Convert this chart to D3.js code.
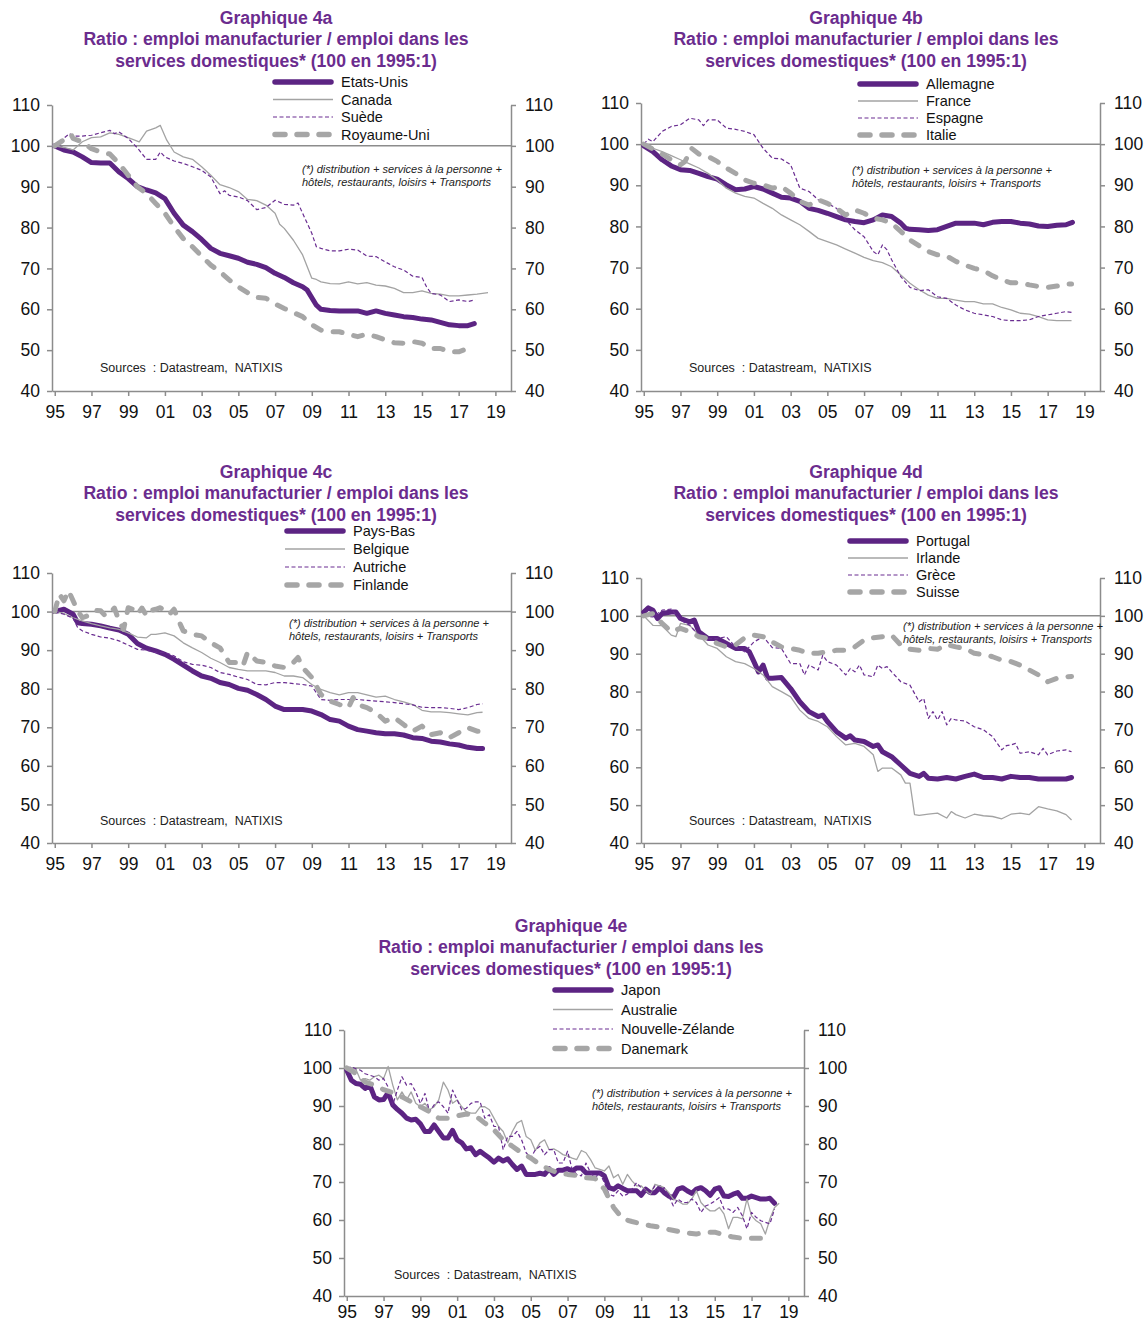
<!DOCTYPE html>
<html>
<head>
<meta charset="utf-8">
<script src="https://cdn.jsdelivr.net/npm/d3@7"></script>
<style>
  body { margin: 0; background: #ffffff; }
  text { font-family: "Liberation Sans", Arial, sans-serif; }
</style>
</head>
<body>
<div id="chart-container"></div>
<script>
const W = 1146, H = 1326;

// Axis ticks
const yTicks = [40, 50, 60, 70, 80, 90, 100, 110];
const xTicks = [1995, 1997, 1999, 2001, 2003, 2005, 2007, 2009, 2011, 2013, 2015, 2017, 2019];

const titleLine2 = "Ratio : emploi manufacturier / emploi dans les";
const titleLine3 = "services domestiques* (100 en 1995:1)";
const noteLines = ["(*) distribution + services à la personne +", "hôtels, restaurants, loisirs + Transports"];
const sourceText = "Sources  : Datastream,  NATIXIS";

// ---- Graphique 4a ----
const etatsUnis = [[1995,100],[1995.5,99],[1996,98.5],[1996.5,97.3],[1997,95.9],[1997.5,95.8],[1998,95.8],[1998.5,93.6],[1999,92],[1999.5,90],[2000,89.2],[2000.5,88.5],[2001,87.1],[2001.5,83.5],[2002,80.6],[2002.5,79],[2003,77.1],[2003.5,74.9],[2004,73.7],[2004.5,73.1],[2005,72.5],[2005.5,71.5],[2006,71],[2006.5,70.2],[2007,68.8],[2007.5,67.8],[2008,66.5],[2008.5,65.5],[2008.75,64.7],[2009.25,61],[2009.5,60],[2010,59.7],[2010.5,59.6],[2011,59.6],[2011.5,59.6],[2012,59],[2012.5,59.6],[2013,59],[2013.5,58.6],[2014,58.2],[2014.5,58],[2015,57.6],[2015.5,57.4],[2016,56.8],[2016.5,56.2],[2017,56],[2017.5,56],[2017.85,56.5]];
const canada = [[1995,100],[1995.5,99.6],[1996,99],[1996.5,101],[1997,102],[1997.5,102.2],[1998,103.2],[1998.5,102.8],[1999,102],[1999.6,101],[2000,103.6],[2000.5,104.4],[2000.75,105],[2001.1,101.4],[2001.5,98.5],[2002,97.3],[2002.5,96.7],[2003,94.9],[2003.5,92.8],[2004,90.5],[2004.5,89.8],[2005,88.8],[2005.5,86.9],[2006,86.6],[2006.5,85.5],[2007,83.5],[2007.25,80.8],[2007.5,79.8],[2008,76.9],[2008.5,73.3],[2009,67.6],[2009.25,67.3],[2009.5,66.7],[2010,66.3],[2010.5,66.2],[2011,66.7],[2011.5,66.2],[2012,66.5],[2012.5,65.9],[2013,65.7],[2013.5,65.1],[2014,64.1],[2014.5,64.1],[2015,64.5],[2015.5,63.9],[2016,63.7],[2016.5,63.3],[2017,63.3],[2017.5,63.5],[2018,63.7],[2018.6,64.1]];
const suede = [[1995,100],[1995.8,103],[1996,102.4],[1996.5,102.4],[1997,102.6],[1997.5,103.2],[1998,103.8],[1998.25,103],[1998.5,103.4],[1999,101.8],[1999.5,99.5],[2000,96.7],[2000.5,96.7],[2000.75,98.5],[2001,97.3],[2001.5,96.3],[2002,95.7],[2002.5,94.9],[2003,94],[2003.5,92.4],[2004,88.3],[2004.25,89],[2004.5,87.9],[2005,87.5],[2005.5,86.6],[2006,84.4],[2006.5,84.9],[2007,86.7],[2007.5,85.7],[2008,85.5],[2008.25,86],[2008.5,83.5],[2009,78.6],[2009.25,75.3],[2009.5,74.9],[2010,74.3],[2010.5,74.3],[2011,74.7],[2011.5,74.5],[2012,73],[2012.5,72.9],[2013,71.6],[2013.5,70.4],[2014,69.6],[2014.5,68.1],[2015,67.8],[2015.25,65.5],[2015.5,63.9],[2016,63.5],[2016.5,61.9],[2017,62.3],[2017.5,61.9],[2017.9,62.3]];
const royaumeUni = [[1995,100],[1995.9,102.7],[1996,101.8],[1996.5,101],[1997,99.3],[1997.5,98.5],[1998,98],[1998.5,95.7],[1999,92.8],[1999.5,90],[2000,88.3],[2000.5,85.9],[2001,83.5],[2001.5,80.2],[2002,77.3],[2002.5,75.3],[2003,73],[2003.5,70.8],[2004,69.2],[2004.5,67.2],[2005,65.5],[2005.5,64.1],[2006,62.9],[2006.5,62.7],[2007,61.3],[2007.5,60.2],[2008,59.2],[2008.5,58.2],[2009,56.2],[2009.5,54.9],[2010,54.5],[2010.5,54.5],[2011,53.9],[2011.5,53.3],[2012,53.9],[2012.5,53.3],[2013,52.5],[2013.5,51.8],[2014,51.7],[2014.5,52.1],[2015,51.7],[2015.5,50.4],[2016,50.4],[2016.5,49.6],[2017,49.6],[2017.5,50.4],[2017.8,49.6]];

// ---- Graphique 4b ----
const allemagne = [[1995,99.6],[1995.5,98.2],[1996,96.2],[1996.5,94.7],[1997,93.8],[1997.5,93.6],[1998,92.9],[1998.5,92.1],[1999,91.5],[1999.5,90.1],[2000,88.9],[2000.5,89.1],[2001,89.7],[2001.5,89.1],[2002,88.1],[2002.5,87.1],[2003,86.9],[2003.5,86.1],[2004,84.4],[2004.5,83.9],[2005,83.2],[2005.5,82.4],[2006,81.6],[2006.5,81.2],[2007,80.9],[2007.5,81.6],[2008,82.8],[2008.5,82.4],[2009,80.8],[2009.25,79.6],[2009.5,79.3],[2010,79.2],[2010.5,79],[2011,79.2],[2011.5,80],[2012,80.8],[2012.5,80.8],[2013,80.8],[2013.5,80.4],[2014,81],[2014.5,81.2],[2015,81.2],[2015.5,80.8],[2016,80.6],[2016.5,80.1],[2017,80],[2017.5,80.3],[2018,80.4],[2018.35,81]];
const france = [[1995,100],[1995.5,99],[1996,98.2],[1996.5,97.2],[1997,96.2],[1997.5,95.2],[1998,94.2],[1998.5,92.9],[1999,91.3],[1999.5,89.3],[2000,88.1],[2000.5,87.3],[2001,86.9],[2001.5,85.6],[2002,84.4],[2002.5,82.8],[2003,81.6],[2003.5,80.4],[2004,78.8],[2004.5,77.1],[2005,76.3],[2005.5,75.5],[2006,74.5],[2006.5,73.5],[2007,72.5],[2007.5,71.7],[2008,71.2],[2008.5,70.2],[2009,68.2],[2009.5,66.2],[2010,64.6],[2010.5,63.3],[2011,62.5],[2011.5,62.5],[2012,62.1],[2012.5,61.7],[2013,61.7],[2013.5,61.2],[2014,61.2],[2014.5,60.3],[2015,59.7],[2015.5,58.9],[2016,58.7],[2016.5,58.1],[2017,57.3],[2017.5,57.1],[2018,57.1],[2018.3,57.1]];
const espagne = [[1995,100],[1995.25,101.2],[1995.5,100.6],[1996,103.1],[1996.5,104.3],[1997,104.7],[1997.5,106.3],[1998,105.9],[1998.25,104.5],[1998.5,105.9],[1999,105.9],[1999.5,103.9],[2000,103.6],[2000.5,103.1],[2001,102.3],[2001.5,99],[2002,96.6],[2002.5,96.4],[2003,95],[2003.5,89.3],[2004,88.5],[2004.5,86.5],[2005,85.6],[2005.5,84.4],[2006,81.6],[2006.5,79.2],[2007,77.5],[2007.5,73.9],[2007.75,73.1],[2008,75.5],[2008.25,74.3],[2008.5,71.9],[2009,67.8],[2009.5,65.2],[2010,64.4],[2010.5,64.6],[2011,62.9],[2011.5,62.5],[2012,60.9],[2012.5,59.7],[2013,58.9],[2013.5,58.5],[2014,58.1],[2014.5,57.3],[2015,57.1],[2015.5,57.1],[2016,57.3],[2016.5,58.1],[2017,58.5],[2017.5,58.9],[2018,59.3],[2018.3,59.1]];
const italie = [[1995,100],[1995.5,98.8],[1996,97.6],[1996.5,96.2],[1997,95],[1997.25,95.8],[1997.6,99],[1998,97.6],[1998.5,97],[1999,95.8],[1999.5,94.2],[2000,92.9],[2000.5,91.3],[2001,90.5],[2001.5,90.1],[2002,89.3],[2002.5,89.7],[2003,88.1],[2003.5,86.1],[2004,85.2],[2004.5,86.5],[2005,85.6],[2005.5,84.4],[2006,82.8],[2006.5,84],[2007,83.2],[2007.5,82],[2008,81.6],[2008.5,80.8],[2009,78.8],[2009.5,76.7],[2010,75.3],[2010.5,73.9],[2011,73.1],[2011.5,72.8],[2012,71.5],[2012.5,70.6],[2013,69.8],[2013.5,69.3],[2014,68],[2014.5,67],[2015,66.3],[2015.5,66.3],[2016,65.8],[2016.5,65.4],[2017,65.2],[2017.5,65.5],[2018,66],[2018.3,66]];

// ---- Graphique 4c ----
const paysBas = [[1995,100],[1995.5,100.6],[1996,99.3],[1996.25,97.1],[1996.5,96.9],[1997,96.7],[1997.5,96.3],[1998,95.7],[1998.5,95.2],[1999,94.1],[1999.5,91.7],[2000,90.5],[2000.5,89.8],[2001,88.9],[2001.5,87.6],[2002,86.1],[2002.5,84.6],[2003,83.3],[2003.5,82.7],[2004,81.6],[2004.5,81.1],[2005,80.1],[2005.5,79.6],[2006,78.5],[2006.5,77.2],[2007,75.5],[2007.5,74.6],[2008,74.6],[2008.5,74.6],[2009,74.2],[2009.5,73.3],[2010,72],[2010.5,71.6],[2011,70.3],[2011.5,69.4],[2012,69],[2012.5,68.6],[2013,68.3],[2013.5,68.3],[2014,68],[2014.5,67.3],[2015,67.1],[2015.5,66.4],[2016,66.2],[2016.5,65.7],[2017,65.4],[2017.5,64.8],[2018,64.5],[2018.3,64.5]];
const belgique = [[1995,100],[1995.5,99.5],[1996,98.4],[1996.5,97.6],[1997,96.9],[1997.5,96.3],[1998,95.8],[1998.5,95.4],[1999,94.5],[1999.5,93.4],[2000,93.2],[2000.25,94.1],[2000.5,94.1],[2001,94.5],[2001.5,93.7],[2002,91.9],[2002.5,90.6],[2003,89.4],[2003.5,87.9],[2004,86.8],[2004.5,85.5],[2005,85],[2005.5,84.6],[2006,84.6],[2006.5,84.6],[2007,84.2],[2007.5,83.3],[2008,83.3],[2008.5,82.9],[2009,81.1],[2009.5,79.8],[2010,79],[2010.5,78.4],[2011,79],[2011.5,79],[2012,78.4],[2012.5,77.8],[2013,78.1],[2013.5,77.2],[2014,76.6],[2014.5,75.9],[2015,74.4],[2015.5,74],[2016,74],[2016.5,73.8],[2017,73.5],[2017.5,73.2],[2018,73.8],[2018.3,73.9]];
const autriche = [[1995,100],[1995.5,99.3],[1996,98.3],[1996.25,95.8],[1996.5,95],[1997,94.1],[1997.5,93.4],[1998,93.1],[1998.5,92.4],[1999,91.3],[1999.5,90.2],[2000,90],[2000.5,89.4],[2001,89.4],[2001.5,88.5],[2002,87],[2002.5,86.3],[2003,86.1],[2003.5,85.5],[2004,84.2],[2004.5,83.7],[2005,83],[2005.5,82.4],[2006,81.1],[2006.5,81],[2007,81.6],[2007.5,81.6],[2008,81.3],[2008.5,81.1],[2009,80.7],[2009.5,77.2],[2010,77],[2010.5,77.2],[2011,77.2],[2011.5,77.2],[2012,77],[2012.5,76.8],[2013,76.6],[2013.5,76.4],[2014,76.1],[2014.5,75.8],[2015,75.2],[2015.5,75.1],[2016,75.1],[2016.5,74.9],[2017,74.6],[2017.5,75.1],[2018,75.9],[2018.3,76.1]];
const finlande = [[1995,100],[1995.25,104.5],[1995.5,102.8],[1995.75,105.4],[1996,102.8],[1996.25,100.2],[1996.5,98.4],[1997,99.3],[1997.25,100.3],[1997.5,100.2],[1997.75,98.9],[1998,99.7],[1998.25,100.9],[1998.5,97.6],[1998.75,95.4],[1999,101],[1999.25,100.6],[1999.5,99.3],[1999.75,100.9],[2000,98.9],[2000.25,100.3],[2000.5,100.6],[2000.75,101],[2001,100.2],[2001.25,99.3],[2001.5,100.6],[2001.75,97.6],[2002,95],[2002.5,94.1],[2003,93.7],[2003.25,92.8],[2003.5,91.9],[2004,90.6],[2004.5,86.8],[2005,86.8],[2005.25,85.9],[2005.5,89.4],[2006,87.2],[2006.5,86.8],[2007,85.9],[2007.5,85.5],[2008,86.8],[2008.25,88.1],[2008.5,85.5],[2009,82.9],[2009.5,78.5],[2010,76.8],[2010.5,75.9],[2011,75.1],[2011.25,77.7],[2011.5,75.9],[2012,75.1],[2012.5,73.8],[2013,71.6],[2013.5,72.5],[2014,70.7],[2014.5,69],[2015,70.3],[2015.5,68.1],[2016,68.6],[2016.5,67.3],[2017,68.6],[2017.5,69.9],[2018,69],[2018.3,69]];

// ---- Graphique 4d ----
const portugal = [[1995,101],[1995.25,102.1],[1995.5,101.5],[1995.75,99.3],[1996,100.6],[1996.5,101],[1996.75,101],[1997,99.3],[1997.5,98.4],[1997.75,98.9],[1998,95.8],[1998.5,94],[1999,94],[1999.5,92.7],[2000,91.4],[2000.5,91.4],[2000.75,90.5],[2001,87.9],[2001.25,85.2],[2001.5,87],[2001.75,83.5],[2002,83.5],[2002.5,83.7],[2003,80.8],[2003.5,77.3],[2004,74.7],[2004.5,73.4],[2004.75,73.8],[2005,72.1],[2005.5,69.4],[2006,67.7],[2006.25,68.3],[2006.5,67.2],[2007,66.8],[2007.5,65.5],[2007.75,65.9],[2008,64.1],[2008.5,62.8],[2009,60.6],[2009.5,58.4],[2010,57.6],[2010.25,58.4],[2010.5,57.1],[2011,56.9],[2011.5,57.3],[2012,56.9],[2012.5,57.6],[2013,58.2],[2013.5,57.3],[2014,57.3],[2014.5,56.9],[2015,57.6],[2015.5,57.3],[2016,57.3],[2016.5,56.9],[2017,56.9],[2017.5,56.9],[2018,56.9],[2018.3,57.3]];
const irlande = [[1995,100],[1995.5,97.5],[1996,97.4],[1996.5,94.9],[1996.75,94.5],[1997,98],[1997.5,97.5],[1998,94.9],[1998.5,92.3],[1999,91.4],[1999.5,89.2],[2000,87.9],[2000.5,87.4],[2001,86.1],[2001.5,84.4],[2002,81.3],[2002.5,80],[2003,78.6],[2003.5,75.1],[2004,72.9],[2004.5,72.1],[2005,70.7],[2005.5,68.1],[2006,65.9],[2006.5,66.3],[2007,65.5],[2007.5,63.3],[2007.75,58.9],[2008,59.8],[2008.5,59.8],[2009,58],[2009.25,55.8],[2009.5,55.8],[2009.75,47.5],[2010,47.3],[2010.5,47.6],[2011,47.9],[2011.5,46.6],[2011.75,48.3],[2012,47.5],[2012.5,46.6],[2013,47.6],[2013.5,47.2],[2014,47],[2014.5,46.4],[2015,47.6],[2015.5,47.9],[2016,47.5],[2016.5,49.6],[2017,49],[2017.5,48.5],[2018,47.5],[2018.3,46.1]];
const grece = [[1995,100],[1995.5,99.7],[1996,101.5],[1996.5,101.8],[1997,98.9],[1997.5,97.5],[1998,94.9],[1998.5,94],[1999,94],[1999.5,94.5],[2000,91.8],[2000.5,90.5],[2001,93.1],[2001.5,94.5],[2002,91.6],[2002.5,91.4],[2003,87.4],[2003.5,87.4],[2003.75,84.4],[2004,87],[2004.5,85.7],[2004.75,89.6],[2005,87.9],[2005.5,87],[2006,84.4],[2006.25,86.1],[2006.5,85.2],[2006.75,87],[2007,84.4],[2007.5,83.9],[2007.75,87],[2008,86.1],[2008.25,86.6],[2008.5,85.2],[2009,82.6],[2009.5,81.7],[2010,77.3],[2010.25,78.2],[2010.5,72.9],[2010.75,74.7],[2011,72.5],[2011.25,74.7],[2011.5,71.2],[2011.75,72.9],[2012,72.5],[2012.5,72.2],[2013,70.7],[2013.5,69.9],[2014,68.1],[2014.5,64.6],[2014.75,65.7],[2015,65.9],[2015.25,66.3],[2015.5,63.7],[2016,64.1],[2016.5,63.3],[2016.75,65],[2017,63.3],[2017.5,64.3],[2018,64.6],[2018.3,64.1]];
const suisse = [[1995,100],[1995.5,100.6],[1996,98],[1996.5,95.8],[1997,96.7],[1997.5,95.8],[1998,94.5],[1998.5,94],[1999,92.7],[1999.5,91.8],[2000,92.3],[2000.5,94.2],[2001,94.9],[2001.5,94.5],[2002,93.1],[2002.5,91.8],[2003,91.4],[2003.5,90.9],[2004,90.1],[2004.5,90.1],[2005,90.5],[2005.5,90.9],[2006,90.9],[2006.5,91.8],[2007,93.6],[2007.5,94.2],[2008,94.5],[2008.5,94.9],[2009,92.3],[2009.5,91.2],[2010,90.9],[2010.5,91.4],[2011,91.2],[2011.5,92.4],[2012,91.8],[2012.5,91.4],[2013,90.1],[2013.5,89.8],[2014,89.2],[2014.5,88.3],[2015,87.9],[2015.5,87],[2016,85.7],[2016.5,84.4],[2017,82.6],[2017.5,83.5],[2018,83.9],[2018.3,84]];

// ---- Graphique 4e ----
const japon = [[1995,99.4],[1995.25,96.8],[1995.5,95.9],[1995.75,95.7],[1996,94.6],[1996.25,95.5],[1996.5,92.4],[1996.75,91.6],[1997,91.7],[1997.25,93.5],[1997.5,90.3],[1997.75,89.1],[1998,88.1],[1998.25,86.8],[1998.5,86.3],[1998.75,86.5],[1999,85.3],[1999.25,83.3],[1999.5,83.3],[1999.75,85],[2000,83.3],[2000.25,81.6],[2000.5,81.6],[2000.75,83.6],[2001,81.1],[2001.25,80.3],[2001.5,78.7],[2001.75,79],[2002,77.2],[2002.25,78.1],[2002.5,77.2],[2002.75,76.3],[2003,75.2],[2003.25,76.3],[2003.5,75.5],[2003.75,76.1],[2004,74.6],[2004.25,73.3],[2004.5,74.2],[2004.75,72],[2005,72],[2005.25,72],[2005.5,72.3],[2005.75,72],[2006,73.5],[2006.25,72],[2006.5,73.1],[2006.75,73.1],[2007,73.5],[2007.25,72.9],[2007.5,73.7],[2007.75,73.7],[2008,72.4],[2008.25,72.4],[2008.5,72.4],[2008.75,72.4],[2009,71.6],[2009.25,68.5],[2009.5,68.1],[2009.75,69],[2010,68.3],[2010.25,67.7],[2010.5,67.7],[2010.75,67.7],[2011,66.5],[2011.25,68.1],[2011.5,67.2],[2011.75,67.2],[2012,68.5],[2012.25,67.2],[2012.5,66.3],[2012.75,65.9],[2013,68.1],[2013.25,68.5],[2013.5,67.7],[2013.75,67],[2014,68.1],[2014.25,68.5],[2014.5,67.7],[2014.75,66.5],[2015,68.1],[2015.25,68.5],[2015.5,66.3],[2015.75,66.2],[2016,66.8],[2016.25,67.2],[2016.5,65.7],[2016.75,65.7],[2017,66.3],[2017.25,65.9],[2017.5,65.5],[2017.75,65.5],[2018,65.7],[2018.25,64.4]];
const australie = [[1995,100],[1995.25,99.4],[1995.5,99.6],[1995.75,96.8],[1996,97.2],[1996.25,96.8],[1996.5,97.7],[1996.75,98.1],[1997,97.2],[1997.25,100.4],[1997.5,95.5],[1997.75,91.6],[1998,93.7],[1998.25,91.6],[1998.5,93.7],[1998.75,90.7],[1999,89.8],[1999.25,90.7],[1999.5,89],[1999.75,89.8],[2000,91.6],[2000.25,96.3],[2000.5,94.2],[2000.75,90.7],[2001,91.6],[2001.25,89.8],[2001.5,88.5],[2001.75,88.1],[2002,88.1],[2002.25,89.8],[2002.5,89.8],[2002.75,89],[2003,86.8],[2003.25,84.6],[2003.5,83.3],[2003.75,80.3],[2004,83.3],[2004.25,85.5],[2004.5,86.2],[2004.75,82],[2005,81.1],[2005.25,78.3],[2005.5,80.3],[2005.75,81.1],[2006,78.5],[2006.25,78.7],[2006.5,78.1],[2006.75,77.2],[2007,76.8],[2007.25,76.3],[2007.5,75.9],[2007.75,78.3],[2008,77.7],[2008.25,75.9],[2008.5,73.7],[2008.75,73.3],[2009,72.9],[2009.25,74.2],[2009.5,71.1],[2009.75,72],[2010,69.4],[2010.25,72],[2010.5,70.3],[2010.75,69],[2011,69],[2011.25,67.7],[2011.5,66.8],[2011.75,69.4],[2012,69],[2012.25,68.5],[2012.5,67.2],[2012.75,65.5],[2013,65],[2013.25,64.2],[2013.5,64.2],[2013.75,65.5],[2014,67.7],[2014.25,64.6],[2014.5,63.3],[2014.75,62.4],[2015,62.4],[2015.25,63.3],[2015.5,61.6],[2015.75,57.7],[2016,60.7],[2016.25,60.7],[2016.5,60.3],[2016.75,65.5],[2017,61.1],[2017.25,59.8],[2017.5,59],[2017.75,56.3],[2018,60.3],[2018.25,63.3],[2018.5,64.4]];
const nouvelleZelande = [[1995,100],[1995.25,100.3],[1995.5,99.8],[1995.75,99.4],[1996,98.5],[1996.25,98.1],[1996.5,97.7],[1996.75,96.8],[1997,97.2],[1997.25,95],[1997.5,90.3],[1997.75,94.2],[1998,97.7],[1998.25,95.5],[1998.5,95.9],[1998.75,93.7],[1999,90.7],[1999.25,93.3],[1999.5,88.5],[1999.75,90.3],[2000,91.1],[2000.25,89.8],[2000.5,88.1],[2000.75,94.2],[2001,91.6],[2001.25,89],[2001.5,89.4],[2001.75,90.7],[2002,91.1],[2002.25,91.1],[2002.5,86.8],[2002.75,87.7],[2003,84.6],[2003.25,84.6],[2003.5,78.5],[2003.75,82],[2004,82],[2004.25,83.3],[2004.5,81.1],[2004.75,77.7],[2005,76.3],[2005.25,78.5],[2005.5,79.4],[2005.75,77.2],[2006,78.5],[2006.25,78.5],[2006.5,75],[2006.75,75],[2007,78.1],[2007.25,73.3],[2007.5,72],[2007.75,71.6],[2008,75],[2008.25,72.4],[2008.5,71.1],[2008.75,72.4],[2009,69.8],[2009.25,66.8],[2009.5,66.3],[2009.75,67.7],[2010,66.3],[2010.25,66.8],[2010.5,68.1],[2010.75,69.8],[2011,68.5],[2011.25,67.7],[2011.5,67.2],[2011.75,69],[2012,67.7],[2012.25,68.5],[2012.5,66.3],[2012.75,63.7],[2013,65.5],[2013.25,64.6],[2013.5,64.6],[2013.75,65.5],[2014,64.6],[2014.25,62],[2014.5,63.7],[2014.75,64.2],[2015,65],[2015.25,65.9],[2015.5,62.9],[2015.75,62.9],[2016,62],[2016.25,63.3],[2016.5,61.1],[2016.75,57.7],[2017,62],[2017.25,60.7],[2017.5,59.8],[2017.75,59.4],[2018,59],[2018.25,62.9]];
const danemark = [[1995,100],[1995.5,98.5],[1996,96.3],[1996.5,95.5],[1997,94.3],[1997.5,93.5],[1998,92.4],[1998.5,91.1],[1999,89.8],[1999.5,88.5],[2000,86.8],[2000.5,86.8],[2001,87.4],[2001.5,87.9],[2002,87.4],[2002.5,85.5],[2003,83.7],[2003.5,81.1],[2004,79.4],[2004.5,77.7],[2005,76.3],[2005.5,74.6],[2006,73.3],[2006.5,72.4],[2007,72],[2007.5,71.7],[2008,71.1],[2008.5,70.9],[2009,68.1],[2009.5,63.3],[2010,60.3],[2010.5,59.6],[2011,59],[2011.5,58.5],[2012,58.1],[2012.5,57.5],[2013,57],[2013.5,56.6],[2014,56.3],[2014.5,56.8],[2015,56.8],[2015.5,56.1],[2016,55.5],[2016.5,55.2],[2017,55.2],[2017.5,55.2],[2017.75,55.2]];

// Line styles, in legend order: thick purple, thin grey, dotted purple, dashed grey
const lineStyles = [
    {stroke: "#5c2483", width: 5, dash: null, cap: "round"},
    {stroke: "#a3a3a3", width: 1.3, dash: null, cap: "butt"},
    {stroke: "#6a2d91", width: 1.2, dash: "4,2.5", cap: "butt"},
    {stroke: "#a6a6a6", width: 5, dash: "9,12", cap: "round"}
];

// Panel layouts (pixels)
const panels = [
    {name: "Graphique 4a", left: 52, right: 511, top: 105, bottom: 391, xPad: 10, titleX: 276, titleY: 18,
     legendX: 273, legendY: 82, legendStep: 17.5, noteX: 302, noteY: 169, srcX: 100, srcY: 368,
     series: [["Etats-Unis", etatsUnis], ["Canada", canada], ["Suède", suede], ["Royaume-Uni", royaumeUni]]},
    {name: "Graphique 4b", left: 641, right: 1100, top: 103, bottom: 391, xPad: 10, titleX: 866, titleY: 18,
     legendX: 858, legendY: 84, legendStep: 17, noteX: 852, noteY: 170, srcX: 689, srcY: 368,
     series: [["Allemagne", allemagne], ["France", france], ["Espagne", espagne], ["Italie", italie]]},
    {name: "Graphique 4c", left: 52, right: 511, top: 573, bottom: 843, xPad: 10, titleX: 276, titleY: 472,
     legendX: 285, legendY: 531, legendStep: 18, noteX: 289, noteY: 623, srcX: 100, srcY: 821,
     series: [["Pays-Bas", paysBas], ["Belgique", belgique], ["Autriche", autriche], ["Finlande", finlande]]},
    {name: "Graphique 4d", left: 641, right: 1100, top: 578, bottom: 843, xPad: 10, titleX: 866, titleY: 472,
     legendX: 848, legendY: 541, legendStep: 17, noteX: 903, noteY: 626, srcX: 689, srcY: 821,
     series: [["Portugal", portugal], ["Irlande", irlande], ["Grèce", grece], ["Suisse", suisse]]},
    {name: "Graphique 4e", left: 344, right: 804, top: 1030, bottom: 1296, xPad: 5, titleX: 571, titleY: 926,
     legendX: 553, legendY: 990, legendStep: 19.5, noteX: 592, noteY: 1093, srcX: 394, srcY: 1275,
     series: [["Japon", japon], ["Australie", australie], ["Nouvelle-Zélande", nouvelleZelande], ["Danemark", danemark]]}
];

const axisColor = "#8c8c8c";
const titleColor = "#6b2c8e";

var svg = d3.select("#chart-container")
    .append("svg")
    .attr("width", W)
    .attr("height", H)
    .style("background", "#ffffff");

function styleAxis(g) {
    g.select(".domain").attr("stroke", axisColor).attr("stroke-width", 1.5);
    g.selectAll(".tick line").attr("stroke", axisColor).attr("stroke-width", 1.5);
    g.selectAll(".tick text")
        .attr("fill", "#111")
        .style("font-size", "17.5px")
        .style("font-family", "'Liberation Sans', Arial, sans-serif");
}

function drawPanel(p) {
    var g = svg.append("g");

    var xScale = d3.scaleLinear()
        .domain([1994.85, 2019.85])
        .range([p.left, p.right]);

    var yScale = d3.scaleLinear()
        .domain([40, 110])
        .range([p.bottom, p.top]);

    // Title (3 lines)
    var title = g.append("text")
        .attr("text-anchor", "middle")
        .attr("fill", titleColor)
        .style("font-weight", "bold")
        .style("font-size", "17.6px");
    [p.name, titleLine2, titleLine3].forEach(function (t, i) {
        title.append("tspan")
            .attr("x", p.titleX)
            .attr("y", p.titleY + [0, 21, 43][i])
            .attr("dy", "0.35em")
            .text(t);
    });

    // Reference line at 100
    g.append("line")
        .attr("x1", xScale.range()[0])
        .attr("x2", xScale.range()[1])
        .attr("y1", yScale(100))
        .attr("y2", yScale(100))
        .attr("stroke", axisColor)
        .attr("stroke-width", 1.5);

    // Axes
    g.append("g")
        .attr("transform", `translate(${p.left}, 0)`)
        .call(d3.axisLeft(yScale).tickValues(yTicks).tickSize(5).tickSizeOuter(0).tickPadding(7))
        .call(styleAxis);

    g.append("g")
        .attr("transform", `translate(${p.right}, 0)`)
        .call(d3.axisRight(yScale).tickValues(yTicks).tickSize(5).tickSizeOuter(0).tickPadding(9))
        .call(styleAxis);

    g.append("g")
        .attr("transform", `translate(0, ${p.bottom})`)
        .call(d3.axisBottom(xScale).tickValues(xTicks).tickSize(5).tickSizeOuter(0).tickPadding(p.xPad)
            .tickFormat(function (d) { return String(d % 100).padStart(2, "0"); }))
        .call(styleAxis);

    // Footnote and sources
    var note = g.append("text")
        .attr("fill", "#222")
        .style("font-style", "italic")
        .style("font-size", "11px");
    noteLines.forEach(function (t, i) {
        note.append("tspan")
            .attr("x", p.noteX)
            .attr("y", p.noteY + i * 13)
            .attr("dy", "0.35em")
            .text(t);
    });

    g.append("text")
        .attr("x", p.srcX)
        .attr("y", p.srcY)
        .attr("dy", "0.35em")
        .attr("fill", "#222")
        .style("font-size", "12.5px")
        .style("white-space", "pre")
        .text(sourceText);

    // Series
    var line = d3.line()
        .x(function (d) { return xScale(d[0]); })
        .y(function (d) { return yScale(d[1]); });

    p.series.forEach(function (s, i) {
        var st = lineStyles[i];
        g.append("path")
            .datum(s[1])
            .attr("fill", "none")
            .attr("stroke", st.stroke)
            .attr("stroke-width", st.width)
            .attr("stroke-linecap", st.cap)
            .attr("stroke-linejoin", "round")
            .attr("stroke-dasharray", st.dash)
            .attr("d", line);
    });

    // Legend
    p.series.forEach(function (s, i) {
        var st = lineStyles[i];
        var ly = p.legendY + i * p.legendStep;
        g.append("line")
            .attr("x1", p.legendX + (st.cap === "round" ? 2 : 0))
            .attr("x2", p.legendX + (st.cap === "round" ? 58 : 60))
            .attr("y1", ly)
            .attr("y2", ly)
            .attr("stroke", st.stroke)
            .attr("stroke-width", st.width === 5 ? 5.5 : st.width)
            .attr("stroke-linecap", st.cap)
            .attr("stroke-dasharray", i === 3 ? "10,12" : st.dash);
        g.append("text")
            .attr("x", p.legendX + 68)
            .attr("y", ly)
            .attr("dy", "0.35em")
            .attr("fill", "#111")
            .style("font-size", "14.5px")
            .text(s[0]);
    });
}

panels.forEach(drawPanel);
</script>
</body>
</html>
